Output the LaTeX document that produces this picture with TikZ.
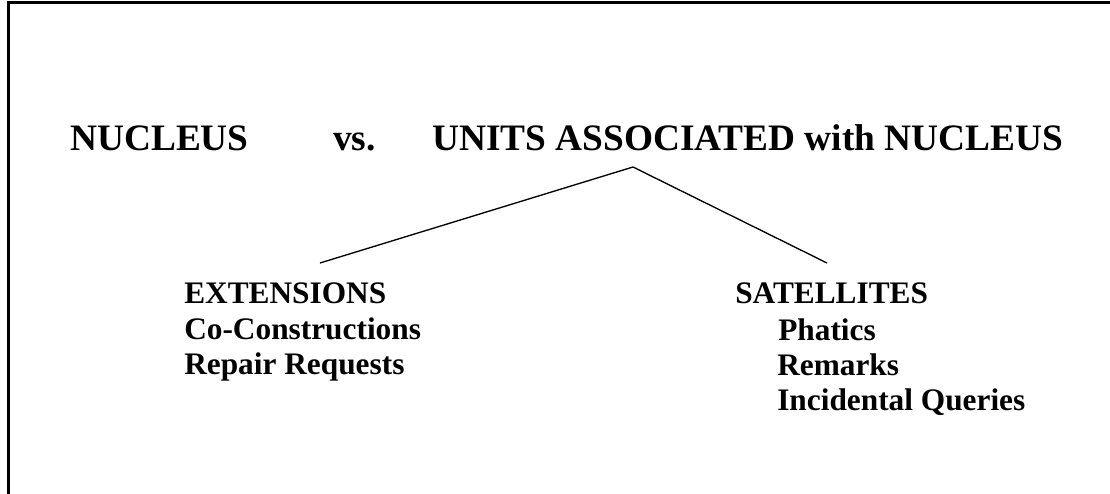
\documentclass[tikz,border=0pt]{standalone}
\usepackage{fontspec}
\setmainfont{Liberation Serif}
\begin{document}
\begin{tikzpicture}[x=0.75pt,y=-0.75pt,
  title/.style={anchor=base west,inner sep=0pt,font=\fontsize{28}{32}\selectfont\bfseries},
  item/.style={anchor=base west,inner sep=0pt,font=\fontsize{23.5}{27}\selectfont\bfseries},
  frame/.style={line width=1.9pt},
  branch/.style={line width=1pt}]
\useasboundingbox (0,0) rectangle (1110,493);
\clip (0,0) rectangle (1110,493);
\fill[white] (0,0) rectangle (1110,493);
\draw[frame] (8.3,510) -- (8.3,2.7) -- (1130,2.7);
\node[title] (nuc) at (70,150) {NUCLEUS};
\node[title] (vs) at (333,150) {vs.};
\node[title] (units) at (432,150) {UNITS ASSOCIATED with NUCLEUS};
\coordinate (apex) at (633,167);
\coordinate (lend) at (320,263);
\coordinate (rend) at (827,263);
\node[item] (ext) at (184,303) {EXTENSIONS};
\node[item] (coc) at (184,339) {Co-Constructions};
\node[item] (rep) at (184,374) {Repair Requests};
\node[item] (sat) at (735,303) {SATELLITES};
\node[item] (pha) at (778,340) {Phatics};
\node[item] (rem) at (777,375) {Remarks};
\node[item] (inc) at (777,410) {Incidental Queries};
\draw[branch] (lend) -- (apex) -- (rend);
\end{tikzpicture}
\end{document}
